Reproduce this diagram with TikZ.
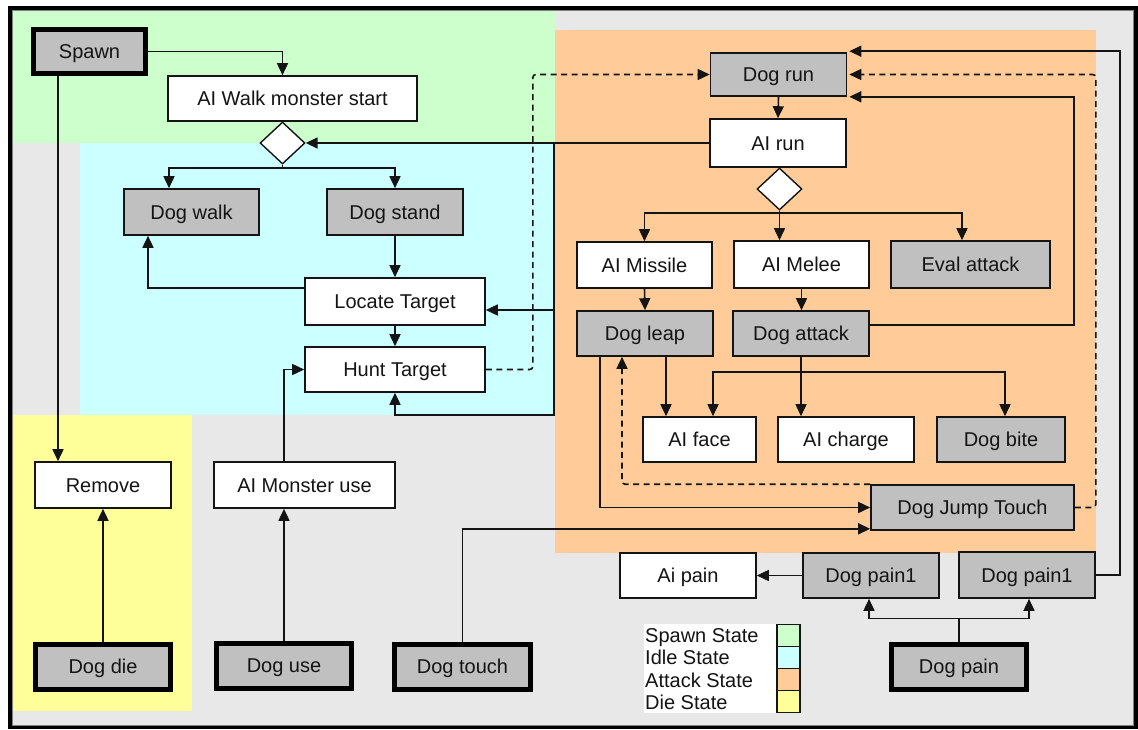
\documentclass[tikz,border=0pt]{standalone}
\usepackage{fontspec}
\setmainfont{Liberation Sans}
\usetikzlibrary{shapes.geometric,arrows.meta}
\definecolor{bgray}{HTML}{E8E8E8}
\definecolor{sgreen}{HTML}{CCFFCC}
\definecolor{scyan}{HTML}{CCFFFF}
\definecolor{sorange}{HTML}{FFCC99}
\definecolor{syellow}{HTML}{FFFF99}
\definecolor{boxgray}{HTML}{C0C0C0}
\definecolor{ink}{HTML}{141414}
\tikzset{
  sz/.style 2 args={minimum width=#1pt, minimum height=#2pt},
  basebox/.style={draw=ink, line width=1.6pt, inner sep=0pt, text=ink,
    text height=14.3pt, text depth=0pt,
    font=\fontsize{20}{22}\selectfont},
  wbox/.style={basebox, fill=white},
  gbox/.style={basebox, fill=boxgray},
  tbox/.style={basebox, fill=boxgray, draw=black, line width=5pt},
  dia/.style={diamond, draw=ink, line width=1.4pt, fill=white, inner sep=0pt, minimum width=45pt, minimum height=42pt},
  conn/.style={draw=ink, line width=1.6pt},
  arr/.style={conn, -{Triangle[length=12pt,width=11pt]}},
  darr/.style={arr, dash pattern=on 6pt off 4.5pt, rounded corners=3pt},
  legtext/.style={anchor=west, inner sep=0pt, text=ink, text height=14.3pt, text depth=0pt, font=\fontsize{20}{22}\selectfont},
  swatch/.style={draw=ink, line width=1.4pt}
}
\begin{document}
\begin{tikzpicture}[x=1pt,y=-1pt]
\useasboundingbox (0,0) rectangle (1138,729);
% background regions
\fill[white] (0,0) rectangle (1138,729);
\fill[bgray] (10,8) rectangle (1135,727);
\fill[sgreen] (12,10) rectangle (555,143);
\fill[scyan] (80,143) rectangle (555,415);
\fill[syellow] (12,415) rectangle (192,711);
\fill[sorange] (555,30) rectangle (1096,553);
\draw[black, line width=4pt] (9.5,7.5) rectangle (1135.5,727);
\draw[gray, line width=0.8pt] (12.5,10.5) rectangle (1133,725);

% nodes - left
\node[tbox, sz={112}{44}] (spawn) at (89.5,51.5) {Spawn};
\node[wbox, sz={249}{45}] (walkstart) at (292.5,98.5) {AI Walk monster start};
\node[dia] (d1) at (282.5,143) {};
\node[gbox, sz={135}{46}] (dogwalk) at (191.5,212) {Dog walk};
\node[gbox, sz={136}{46}] (dogstand) at (395,212) {Dog stand};
\node[wbox, sz={180}{47}] (locate) at (395,301.5) {Locate Target};
\node[wbox, sz={180}{45}] (hunt) at (395,369.5) {Hunt Target};
\node[wbox, sz={181}{46}] (monuse) at (304.5,485) {AI Monster use};
\node[wbox, sz={136}{46}] (remove) at (103,485) {Remove};
\node[tbox, sz={135}{45}] (dogdie) at (103,666.5) {Dog die};
\node[tbox, sz={135}{45}] (doguse) at (284,665.5) {Dog use};
\node[tbox, sz={136}{45}] (dogtouch) at (462.5,666.5) {Dog touch};
% nodes - right
\node[gbox, sz={136}{43}] (dogrun) at (778.5,74.5) {Dog run};
\node[wbox, sz={136}{48}] (airun) at (778,143) {AI run};
\node[dia] (d2) at (779.5,189) {};
\node[wbox, sz={135}{46}] (aimissile) at (644.5,265) {AI Missile};
\node[wbox, sz={135}{47}] (aimelee) at (801.5,264.5) {AI Melee};
\node[gbox, sz={159}{47}] (eval) at (970.5,264.5) {Eval attack};
\node[gbox, sz={136}{45}] (dogleap) at (645,333.5) {Dog leap};
\node[gbox, sz={136}{45}] (dogattack) at (801,333.5) {Dog attack};
\node[wbox, sz={113}{45}] (aiface) at (699.5,439.5) {AI face};
\node[wbox, sz={136}{45}] (aicharge) at (846,439.5) {AI charge};
\node[gbox, sz={128}{45}] (dogbite) at (1001,439.5) {Dog bite};
\node[gbox, sz={203}{45}] (jump) at (972.5,507.5) {Dog Jump Touch};
\node[wbox, sz={136}{45}] (aipain) at (688,575.5) {Ai pain};
\node[gbox, sz={136}{45}] (paina) at (871,575.5) {Dog pain1};
\node[gbox, sz={136}{46}] (painb) at (1027,575) {Dog pain1};
\node[tbox, sz={135}{45}] (dogpain) at (959,666.5) {Dog pain};

% legend
\fill[white] (644,624) rectangle (777,713);
\node[legtext] (l1) at (645,635) {Spawn State};
\node[legtext] (l2) at (645,657.5) {Idle State};
\node[legtext] (l3) at (645,680) {Attack State};
\node[legtext] (l4) at (645,702) {Die State};
\draw[swatch, fill=sgreen] (777,624.5) rectangle (800,646.5);
\draw[swatch, fill=scyan] (777,646.5) rectangle (800,668.5);
\draw[swatch, fill=sorange] (777,668.5) rectangle (800,690.5);
\draw[swatch, fill=syellow] (777,690.5) rectangle (800,712.5);

% connectors - left
\draw[arr] (spawn.east) -| (walkstart.north -| d1);
\draw[arr] (d1.south) -- ++(0,3) -| ([xshift=-22.5pt]dogwalk.north);
\draw[arr] (d1.south) -- ++(0,3) -| (dogstand.north);
\draw[arr] (dogstand.south) -- (locate.north);
\draw[arr] (locate.south) -- (hunt.north);
\draw[arr] ([yshift=13.5pt]locate.west) -| ([xshift=-43.5pt]dogwalk.south);
\draw[arr] (airun.west) -- (d1.east);
\coordinate (b1) at (554,143);
\coordinate (b2) at (554,415);
\draw[arr] (b1) |- ([yshift=-8.5pt]locate.east);
\draw[arr] (b1) -- (b2) -| (hunt.south);
\draw[darr] (hunt.east) -- ++(47,0) |- (dogrun.west);
\draw[arr] ([xshift=-20.5pt]monuse.north) |- (hunt.west);
\draw[arr] (doguse.north) -- (doguse.north |- monuse.south);
\draw[arr] ([xshift=-31.5pt]spawn.south) -- ([xshift=-31.5pt]spawn.south |- remove.north);
\draw[arr] (dogdie.north) -- (remove.south);
\draw[arr] (dogtouch.north) |- ([yshift=2pt]jump.south west);

% connectors - right
\draw[arr] (dogrun.south) -- (airun.north);
\draw[arr] (d2.south) -- ++(0,2) -| (aimissile.north);
\draw[arr] (d2.south) -- ++(0,2) -| ([xshift=-8.5pt]eval.north);
\draw[arr] (d2.south) -- (d2.south |- aimelee.north);
\draw[arr] (aimissile.south) -- (dogleap.north);
\draw[arr] (aimelee.south) -- (aimelee.south |- dogattack.north);
\draw[arr] ([yshift=8.5pt]dogattack.east) -- ++(204,0) |- ([xshift=2pt]dogrun.south east);
\draw[arr] (dogattack.south) -- ++(0,15) -| ([xshift=13.5pt]aiface.north);
\draw[arr] (dogattack.south) -- ++(0,15) -| ([xshift=4pt]dogbite.north);
\draw[arr] (dogattack.south) -- (dogattack.south |- aicharge.north);
\draw[arr] ([xshift=21pt]dogleap.south) -- ([xshift=21pt]dogleap.south |- aiface.north);
\draw[arr] ([xshift=-45pt]dogleap.south) |- (jump.west);
\draw[darr] (jump.north west) -| ([xshift=-23pt]dogleap.south);
\draw[darr] (jump.east) -- ++(21,0) |- ([xshift=2pt]dogrun.east);
\draw[arr] (painb.east) -- ++(24,0) |- ([xshift=2pt,yshift=1pt]dogrun.north east);
\draw[arr] (paina.west) -- (aipain.east);
\draw[arr] (dogpain.north) -- ++(0,-23) -| ([xshift=-2pt]paina.south);
\draw[arr] (dogpain.north) -- ++(0,-23) -| ([xshift=2pt]painb.south);
\end{tikzpicture}
\end{document}
